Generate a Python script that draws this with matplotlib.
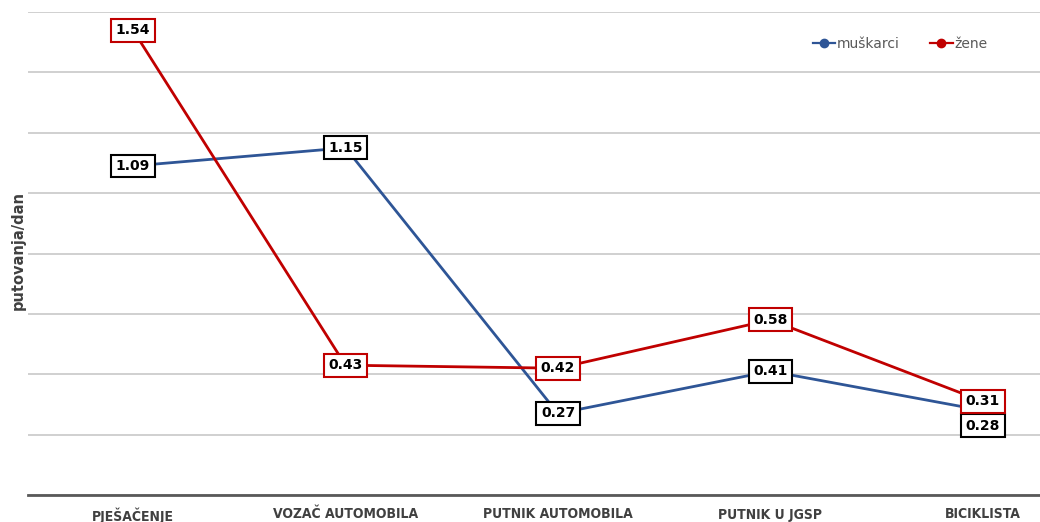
import numpy as np
import matplotlib.pyplot as plt

categories = ["PJEŠAČENJE", "VOZAČ AUTOMOBILA", "PUTNIK AUTOMOBILA", "PUTNIK U JGSP", "BICIKLISTA"]
muskarci = [1.09, 1.15, 0.27, 0.41, 0.28]
zene = [1.54, 0.43, 0.42, 0.58, 0.31]

blue = "#2E5596"
red = "#C00000"
gray = "#404040"

fig = plt.figure(figsize=(10.4, 5.22), dpi=100)
ax = fig.add_axes([28 / 1040, 1 - 495 / 522, 1 - 28 / 1040, (495 - 12) / 522])

x = np.arange(len(categories))
ax.plot(x, muskarci, color=blue, lw=2.0, zorder=3)
ax.plot(x, zene, color=red, lw=2.0, zorder=3)

# legend handles (markers only in legend)
ax.plot([], [], color=blue, lw=1.6, marker="o", ms=6, label="muškarci")
ax.plot([], [], color=red, lw=1.6, marker="o", ms=6, label="žene")

def label(xi, yi, txt, ec, dy=0):
    ax.annotate(txt, (xi, yi), xytext=(0, dy), textcoords="offset points",
                ha="center", va="center", fontsize=10, fontweight="bold",
                family="DejaVu Sans", color="black", zorder=5,
                bbox=dict(boxstyle="square,pad=0.32", fc="white", ec=ec, lw=1.5))

for i, v in enumerate(muskarci):
    dy = -11 if i == 4 else 0
    label(i, v, f"{v:.2f}", "black", dy)
for i, v in enumerate(zene):
    label(i, v, f"{v:.2f}", red)

ax.set_ylim(0, 1.6)
ax.set_yticks(np.arange(0, 1.61, 0.2))
ax.set_yticklabels([])
ax.tick_params(axis="y", length=0)
ax.grid(axis="y", color="#C8C8C8", lw=1.2)
ax.set_axisbelow(True)

ax.set_xlim((28 - 133) / 212.5, (1040 - 133) / 212.5)
ax.set_xticks(x)
ax.set_xticklabels(categories, fontsize=10, fontweight="bold", color=gray,
                   family="DejaVu Sans", fontstretch="condensed")
ax.tick_params(axis="x", length=0, pad=9)

for s in ["top", "right", "left"]:
    ax.spines[s].set_visible(False)
ax.spines["bottom"].set_color("#595959")
ax.spines["bottom"].set_linewidth(2)

fig.text(18 / 1040, 1 - 250 / 522, "putovanja/dan", rotation=90, ha="center", va="center",
         fontsize=10.5, fontweight="bold", color=gray)

leg = ax.legend(loc="upper right", bbox_to_anchor=(0.96, 0.975), ncol=2, frameon=False,
                fontsize=10, handlelength=1.6, columnspacing=2.2, handletextpad=0.1)
for t in leg.get_texts():
    t.set_color("#595959")

fig.savefig("out.png", dpi=100)
